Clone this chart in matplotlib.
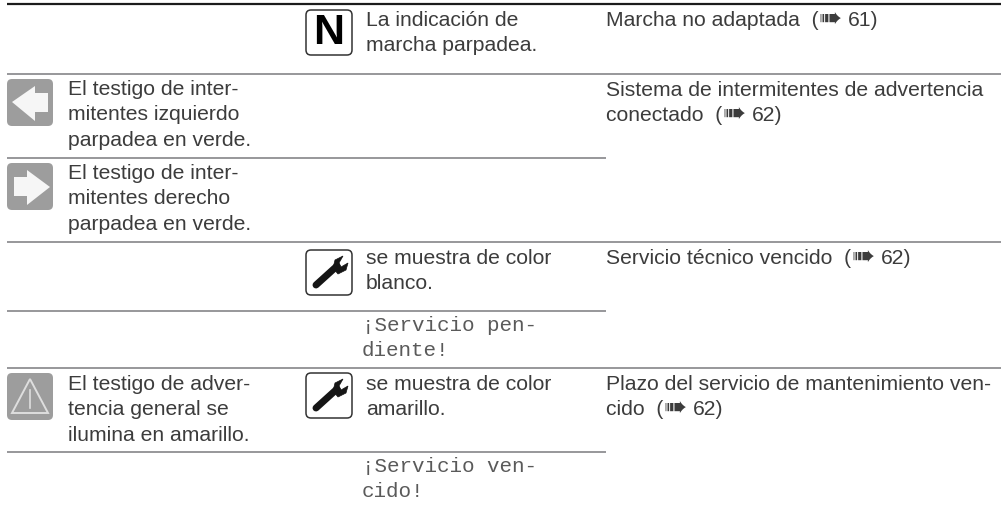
import matplotlib
matplotlib.use('Agg')
import matplotlib.pyplot as plt
from matplotlib.patches import FancyBboxPatch, Polygon

# table text, one list per column, one inner list per cell
left_text = [
    ['El testigo de inter-', 'mitentes izquierdo', 'parpadea en verde.'],
    ['El testigo de inter-', 'mitentes derecho', 'parpadea en verde.'],
    ['El testigo de adver-', 'tencia general se', 'ilumina en amarillo.'],
]
middle_text = [
    ['La indicación de', 'marcha parpadea.'],
    ['se muestra de color', 'blanco.'],
    ['se muestra de color', 'amarillo.'],
]
mono_text = [
    ['¡Servicio pen-', 'diente!'],
    ['¡Servicio ven-', 'cido!'],
]
right_text = [
    ['Marcha no adaptada  (➠ 61)'],
    ['Sistema de intermitentes de advertencia', 'conectado  (➠ 62)'],
    ['Servicio técnico vencido  (➠ 62)'],
    ['Plazo del servicio de mantenimiento ven-', 'cido  (➠ 62)'],
]

# layout in pixels
left_base = [95, 179, 390]
middle_base = [26, 264, 390]
mono_base = [331, 472]
right_base = [26, 96, 264, 390]
full_rules = [73.5, 241.5, 368]
short_rules = [157.5, 311, 451.5]
gray_icons = [79, 163, 373]
box_icons = [10, 250, 373]

LINE = 25.4
SANS = ['Liberation Sans', 'DejaVu Sans']
TEXT = '#3c3c3c'
GRAY = '#9d9d9d'

fig = plt.figure(figsize=(10.01, 5.05), dpi=100)
ax = fig.add_axes([0, 0, 1, 1])
ax.set_xlim(0, 1001)
ax.set_ylim(505, 0)
ax.axis('off')
renderer = fig.canvas.get_renderer()


def put_lines(x, base, lines, color=TEXT, **kw):
    for i, s in enumerate(lines):
        ax.text(x, base + i * LINE, s, va='baseline', ha='left', color=color, **kw)


def put_ref_lines(x, base, lines):
    # the page arrow is set larger than the words around it
    for i, s in enumerate(lines):
        y = base + i * LINE
        if '➠' not in s:
            ax.text(x, y, s, va='baseline', family=SANS, fontsize=15.2, color=TEXT)
            continue
        head, tail = s.split('➠')
        t = ax.text(x, y, head, va='baseline', family=SANS, fontsize=15.2, color=TEXT)
        x1 = x + t.get_window_extent(renderer).width
        g = ax.text(x1, y + 1, '➠', va='baseline', family='DejaVu Sans', fontsize=20, color=TEXT)
        x2 = x1 + g.get_window_extent(renderer).width + 6
        ax.text(x2, y, tail.strip(), va='baseline', family=SANS, fontsize=15.2, color=TEXT)


def rounded(x, y, w, h, **kw):
    ax.add_patch(FancyBboxPatch((x + 3, y + 3), w - 6, h - 6,
                                boxstyle='round,pad=3,rounding_size=5', **kw))


# rules
ax.plot([7, 1001], [4, 4], color='#1c1c1c', lw=1.6, solid_capstyle='butt')
for y in full_rules:
    ax.plot([7, 1001], [y, y], color='#8f8f92', lw=1.3, solid_capstyle='butt')
for y in short_rules:
    ax.plot([7, 606], [y, y], color='#8f8f92', lw=1.3, solid_capstyle='butt')

# text
for base, lines in zip(left_base, left_text):
    put_lines(68, base, lines, family=SANS, fontsize=15.2)
for base, lines in zip(middle_base, middle_text):
    put_lines(366, base, lines, family=SANS, fontsize=15.2)
for base, lines in zip(mono_base, mono_text):
    put_lines(362, base, lines, color='#5a5a5a', family='Liberation Mono', fontsize=15)
for base, lines in zip(right_base, right_text):
    put_ref_lines(606, base, lines)

# gray lamps
for y in gray_icons:
    rounded(7, y, 46, 47, fc=GRAY, ec='none')
y = gray_icons[0]
ax.add_patch(Polygon([(12, y + 23), (35, y + 7), (35, y + 14), (48, y + 14),
                      (48, y + 33), (35, y + 33), (35, y + 42)], fc='#f6f6f6', ec='none'))
y = gray_icons[1]
ax.add_patch(Polygon([(50, y + 24), (27, y + 7), (27, y + 14), (14, y + 14),
                      (14, y + 33), (27, y + 33), (27, y + 42)], fc='#f6f6f6', ec='none'))
y = gray_icons[2]
ax.add_patch(Polygon([(30, y + 6), (12, y + 40), (48, y + 40)], fc='none', ec='#dedede', lw=1.4))
ax.plot([30, 30], [y + 17, y + 35], color='#dedede', lw=1.2)

# boxed symbols
for y in box_icons:
    rounded(306, y, 46, 45, fc='white', ec='#333333', lw=1.1)
ax.text(329, box_icons[0] + 23, 'N', ha='center', va='center', family=SANS,
        fontsize=31, fontweight='bold', color='black')
for y in box_icons[1:]:
    ax.plot([316, 337], [y + 35, y + 16], color='#151515', lw=5, solid_capstyle='round')
    ax.add_patch(Polygon([(333, y + 18), (335, y + 10), (343, y + 6), (339, y + 13), (341, y + 17),
                          (348, y + 13), (346, y + 20), (338, y + 24)], fc='#151515', ec='#151515', lw=0.5))

fig.savefig('out.png', dpi=100)
